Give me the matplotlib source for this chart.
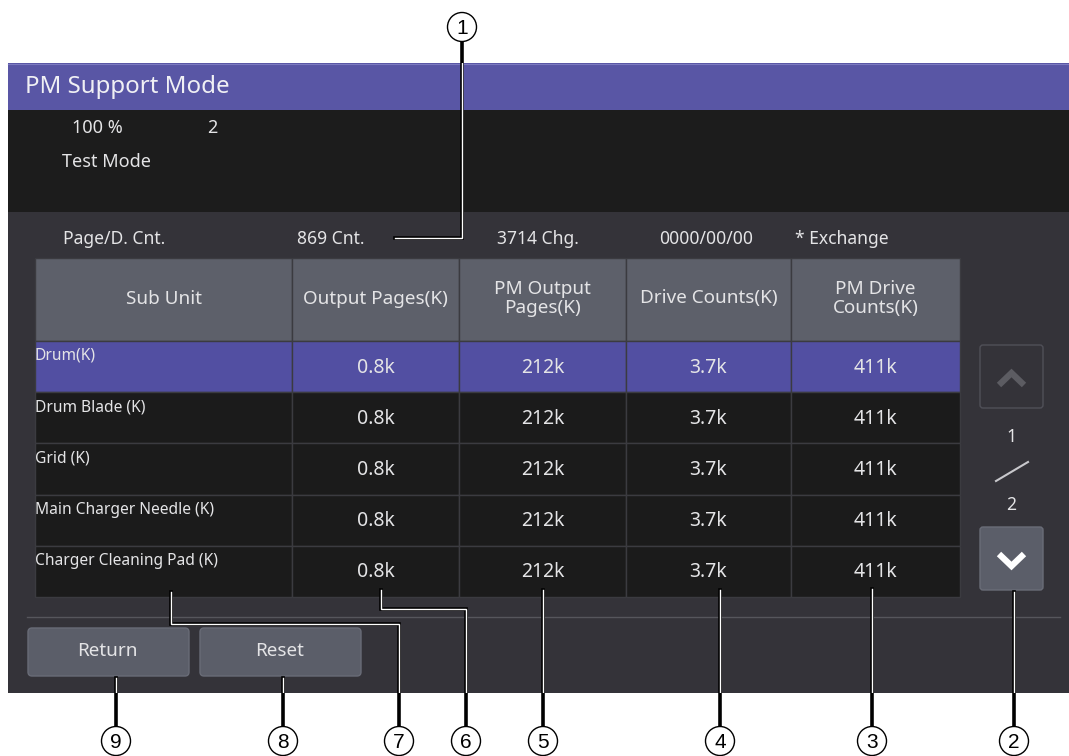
import matplotlib.pyplot as plt
from matplotlib.patches import Rectangle, FancyBboxPatch, Circle

plt.rcParams['font.family'] = ['Noto Sans', 'DejaVu Sans']

# ---- data shown on the screen ----
title = "PM Support Mode"
status_items = ["100 %", "2"]
mode_label = "Test Mode"
counter_items = ["Page/D. Cnt.", "869 Cnt.", "3714 Chg.", "0000/00/00", "* Exchange"]
col_headers = ["Sub Unit", "Output Pages(K)", "PM Output\nPages(K)", "Drive Counts(K)", "PM Drive\nCounts(K)"]
sub_units = ["Drum(K)", "Drum Blade (K)", "Grid (K)", "Main Charger Needle (K)", "Charger Cleaning Pad (K)"]
output_pages = [0.8, 0.8, 0.8, 0.8, 0.8]
pm_output_pages = [212, 212, 212, 212, 212]
drive_counts = [3.7, 3.7, 3.7, 3.7, 3.7]
pm_drive_counts = [411, 411, 411, 411, 411]
page_now, page_total = 1, 2
buttons = ["Return", "Reset"]
callout_numbers = [1, 2, 3, 4, 5, 6, 7, 8, 9]

# ---- colours ----
C_PURPLE = "#5956a5"
C_ROW_SEL = "#524fa2"
C_BLACK = "#1c1c1c"
C_PANEL = "#343339"
C_HEAD = "#5d606a"
C_CELL = "#1b1b1b"
C_GRID = "#3b3b40"
C_TEXT = "#e4e4e6"
C_BTN = "#5b5e69"

fig = plt.figure(figsize=(10.69, 7.56), dpi=100)
ax = fig.add_axes([0, 0, 1, 1])
ax.set_xlim(0, 1069)
ax.set_ylim(756, 0)
ax.axis('off')

# ---- screen background ----
screen = Rectangle((8, 63), 1061, 630, facecolor=C_PANEL, edgecolor='none')
ax.add_patch(screen)
ax.add_patch(Rectangle((8, 63), 1061, 47, facecolor=C_PURPLE, edgecolor='none'))
ax.add_patch(Rectangle((8, 110), 1061, 102, facecolor=C_BLACK, edgecolor='none'))
ax.plot([8, 1069], [63.5, 63.5], color="#7c7ac0", lw=0.8)

ax.text(25, 87, title, color="#f0f0f4", fontsize=17.3, va='center', ha='left')
ax.text(72, 128, status_items[0], color=C_TEXT, fontsize=13, va='center')
ax.text(207, 128, status_items[1], color=C_TEXT, fontsize=13, va='center')
ax.text(62, 162, mode_label, color=C_TEXT, fontsize=13, va='center')

counter_x = [63, 297, 497, 659, 795]
for cx, txt in zip(counter_x, counter_items):
    ax.text(cx, 239, txt, color=C_TEXT, fontsize=12.6, va='center', ha='left')

# ---- table ----
col_edges = [35, 292, 459, 626, 791, 960]
head_top, head_bot = 258, 341
row_h = 51.2
table_cols = [output_pages, pm_output_pages, drive_counts, pm_drive_counts]

for j in range(len(col_headers)):
    x0, x1 = col_edges[j], col_edges[j + 1]
    ax.add_patch(Rectangle((x0, head_top), x1 - x0, head_bot - head_top,
                           facecolor=C_HEAD, edgecolor=C_GRID, lw=1))
    ax.text((x0 + x1) / 2, (head_top + head_bot) / 2 - 1, col_headers[j],
            color=C_TEXT, fontsize=13.6, ha='center', va='center', linespacing=1.05)

for i, unit in enumerate(sub_units):
    y0 = head_bot + i * row_h
    fill = C_ROW_SEL if i == 0 else C_CELL
    for j in range(len(col_headers)):
        x0, x1 = col_edges[j], col_edges[j + 1]
        ax.add_patch(Rectangle((x0, y0), x1 - x0, row_h,
                               facecolor=fill, edgecolor=C_GRID, lw=1))
    ax.text(col_edges[0], y0 + 15, unit, color=C_TEXT,
            fontsize=11.2, ha='left', va='center')
    for j, values in enumerate(table_cols):
        x0, x1 = col_edges[j + 1], col_edges[j + 2]
        ax.text((x0 + x1) / 2, y0 + row_h / 2 + 1, f"{values[i]:g}k", color=C_TEXT,
                fontsize=14, ha='center', va='center')

# ---- page scroll column ----
ax.add_patch(FancyBboxPatch((980, 345), 63, 63, boxstyle="round,pad=0,rounding_size=3",
                            facecolor=C_PANEL, edgecolor="#505058", lw=1))
ax.plot([999, 1011.5, 1024], [385, 373, 385], color="#5c5c62", lw=4.5,
        solid_capstyle='butt', solid_joinstyle='miter')
ax.text(1011, 437, str(page_now), color=C_TEXT, fontsize=12.5, ha='center', va='center')
ax.plot([996, 1028], [481, 462], color="#c8c8cc", lw=1.5)
ax.text(1011, 505, str(page_total), color=C_TEXT, fontsize=12.5, ha='center', va='center')
ax.add_patch(FancyBboxPatch((980, 527), 63, 63, boxstyle="round,pad=0,rounding_size=3",
                            facecolor=C_BTN, edgecolor="#6a6d78", lw=1))
ax.plot([999, 1011.5, 1024], [554, 566, 554], color="white", lw=4.5,
        solid_capstyle='butt', solid_joinstyle='miter')

# ---- bottom bar ----
ax.plot([27, 1060], [617, 617], color="#56565c", lw=1)
btn_x = [28, 200]
for bx, label in zip(btn_x, buttons):
    ax.add_patch(FancyBboxPatch((bx, 628), 161, 48, boxstyle="round,pad=0,rounding_size=4",
                                facecolor=C_BTN, edgecolor="#696c77", lw=1))
    ax.text(bx + 79.5, 651, label, color=C_TEXT, fontsize=13.6, ha='center', va='center')

# ---- callouts (number, circle centre, leader path) ----
callouts = {
    1: ((462, 27), [(462, 41), (462, 238), (395, 238)]),
    2: ((1014, 741), [(1014, 592), (1014, 727)]),
    3: ((872, 741), [(872, 589), (872, 727)]),
    4: ((720, 741), [(720, 590), (720, 727)]),
    5: ((543, 741), [(543, 590), (543, 727)]),
    6: ((466, 741), [(381, 590), (381, 609), (466, 609), (466, 727)]),
    7: ((399, 741), [(171, 592), (171, 624), (399, 624), (399, 727)]),
    8: ((283, 741), [(283, 678), (283, 727)]),
    9: ((116, 741), [(116, 678), (116, 727)]),
}
for n in callout_numbers:
    (cx, cy), path = callouts[n]
    xs, ys = zip(*path)
    ax.plot(xs, ys, color="black", lw=2.6, solid_joinstyle='miter', zorder=5)
    core, = ax.plot(xs, ys, color="white", lw=1.0, solid_joinstyle='miter', zorder=6)
    core.set_clip_path(screen)
    ax.add_patch(Circle((cx, cy), 14.5, facecolor='white', edgecolor='black', lw=1, zorder=7))
    ax.text(cx, cy + 1, str(n), color='black', fontsize=15, ha='center', va='center',
            family='Liberation Sans', zorder=8)

fig.savefig("out.png", dpi=100)
